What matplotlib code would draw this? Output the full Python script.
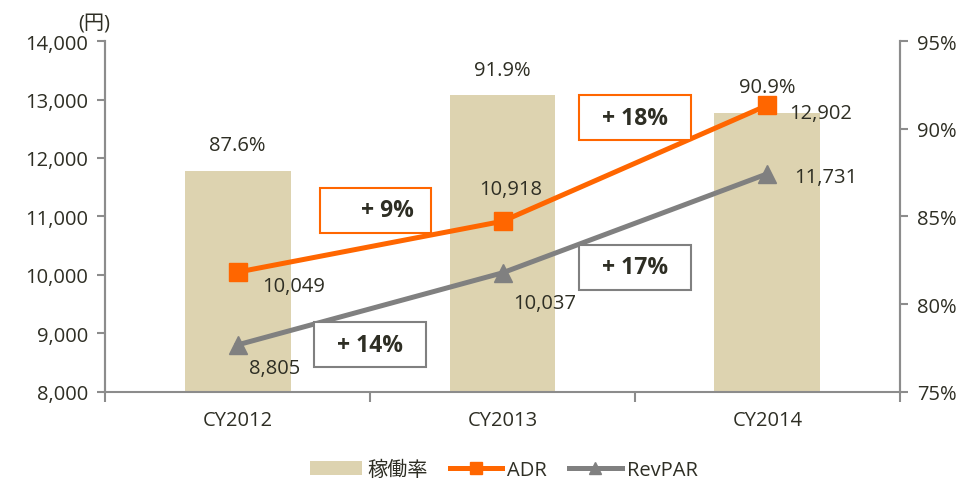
import matplotlib
matplotlib.use("Agg")
import matplotlib.pyplot as plt
from matplotlib.patches import Rectangle, Patch
from matplotlib.lines import Line2D

plt.rcParams['font.family'] = ['Open Sans', 'Noto Sans CJK JP', 'DejaVu Sans']

# データ
anios = ["CY2012", "CY2013", "CY2014"]
ocupacion = [87.6, 91.9, 90.9]          # 稼働率 (%)
adr = [10049, 10918, 12902]             # 円
revpar = [8805, 10037, 11731]           # 円

# 伸び率ボックス: (texto, x, y_centro)
cajas_txt = ["+ 9%", "+ 18%", "+ 14%", "+ 17%"]
cajas_x = [0.52, 1.5, 0.50, 1.5]
cajas_y = [11110, 12690, 8810, 10130]

color_barra = "#DDD3B0"
color_adr = "#FF6600"
color_rev = "#808080"
color_txt = "#2E2E24"
color_eje = "#8C8C8C"
fs = 14.5

fig = plt.figure(figsize=(9.67, 4.85), dpi=100)
ax = fig.add_axes([0.1086, 0.1897, 0.8221, 0.7237])
ax2 = ax.twinx()
ax.set_zorder(ax2.get_zorder() + 1)
ax.patch.set_visible(False)

x = list(range(len(anios)))

# barras (eje derecho)
ax2.bar(x, ocupacion, width=0.4, color=color_barra, zorder=1)
ax2.set_ylim(75, 95)
ax2.set_yticks([75, 80, 85, 90, 95])
ax2.set_yticklabels([f"{v}%" for v in [75, 80, 85, 90, 95]])
for xi, v in zip(x, ocupacion):
    ax2.text(xi, v + 0.9, f"{v}%", ha="center", va="bottom", fontsize=fs, color=color_txt)

# lineas (eje izquierdo)
ax.plot(x, adr, color=color_adr, lw=3.6, marker="s", ms=13, zorder=3)
ax.plot(x, revpar, color=color_rev, lw=3.6, marker="^", ms=13, zorder=3)
ax.set_xlim(-0.5, 2.5)
ax.set_ylim(8000, 14000)
ax.set_yticks(range(8000, 14001, 1000))
ax.set_yticklabels([f"{v:,}" for v in range(8000, 14001, 1000)])

# etiquetas de valores
off_adr = [(0.21, -230), (0.03, 560), (0.2, -130)]
off_rev = [(0.14, -400), (0.16, -520), (0.22, -60)]
for xi, v, (dx, dy) in zip(x, adr, off_adr):
    ax.text(xi + dx, v + dy, f"{v:,}", ha="center", va="center", fontsize=fs, color=color_txt)
for xi, v, (dx, dy) in zip(x, revpar, off_rev):
    ax.text(xi + dx, v + dy, f"{v:,}", ha="center", va="center", fontsize=fs, color=color_txt)

# cajas de crecimiento
colores_caja = [color_adr, color_adr, color_rev, color_rev]
dx_txt = [0.045, 0, 0, 0]
for t, cx, cy, c, d in zip(cajas_txt, cajas_x, cajas_y, colores_caja, dx_txt):
    ax.add_patch(Rectangle((cx - 0.21, cy - 385), 0.42, 770, fill=True, fc="white",
                           ec=c, lw=1.5, zorder=4))
    ax.text(cx + d, cy, t, ha="center", va="center", fontsize=16.5, fontweight="bold",
            color=color_txt, zorder=5)

# ejes
ax.set_xticks([-0.5, 0.5, 1.5, 2.5])
ax.set_xticklabels([])
ax.set_xticks(x, minor=True)
ax.set_xticklabels(anios, minor=True)
ax.tick_params(axis="x", which="minor", length=0, pad=13, labelsize=fs, labelcolor=color_txt)
ax.tick_params(axis="x", which="major", length=7, width=1.5, color=color_eje)
ax.tick_params(axis="y", length=6, width=1.5, color=color_eje, labelsize=fs,
               labelcolor=color_txt, pad=6)
ax2.tick_params(axis="y", length=6, width=1.5, color=color_eje, labelsize=fs,
                labelcolor=color_txt, pad=6)
for a in (ax, ax2):
    a.spines["top"].set_visible(False)
    for s in ["left", "right", "bottom"]:
        a.spines[s].set_color(color_eje)
        a.spines[s].set_linewidth(1.5)
ax2.spines["bottom"].set_visible(False)

ax.annotate("(円)", xy=(-0.5, 14000), xytext=(-8, 6), textcoords="offset points",
            ha="center", va="bottom", fontsize=fs, color=color_txt)

# leyenda
handles = [
    Patch(fc=color_barra, ec="none"),
    Line2D([], [], color=color_adr, lw=3.6, marker="s", ms=8),
    Line2D([], [], color=color_rev, lw=3.6, marker="^", ms=8),
]
fig.legend(handles, ["稼働率", "ADR", "RevPAR"], loc="lower center", ncol=3,
           frameon=False, fontsize=fs, bbox_to_anchor=(0.521, -0.03),
           handlelength=2.6, handletextpad=0.25, columnspacing=1.1,
           labelcolor=color_txt)

fig.savefig("out.png", dpi=100)
